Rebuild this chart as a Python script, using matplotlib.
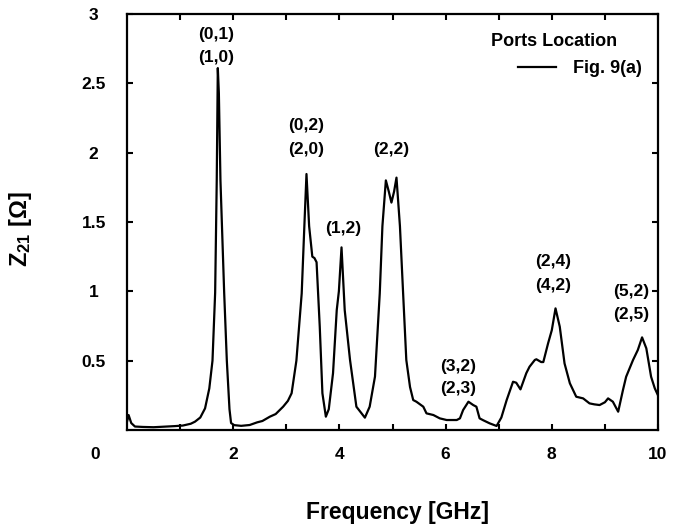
import matplotlib
matplotlib.use("Agg")
import matplotlib.pyplot as plt

plt.rcParams["font.family"] = ["Liberation Sans", "DejaVu Sans"]
plt.rcParams["font.weight"] = "bold"
plt.rcParams["mathtext.fontset"] = "custom"
plt.rcParams["mathtext.rm"] = "Liberation Sans:bold"
plt.rcParams["mathtext.it"] = "Liberation Sans:bold"
plt.rcParams["mathtext.bf"] = "Liberation Sans:bold"

freq = [0.00, 0.03, 0.08, 0.15, 0.30, 0.50, 0.70, 0.90, 1.05, 1.20, 1.28, 1.38,
        1.47, 1.55, 1.61, 1.66, 1.69, 1.71, 1.73, 1.76, 1.83, 1.88, 1.93, 1.96,
        2.02, 2.15, 2.31, 2.45, 2.55, 2.69, 2.80, 2.94, 3.03, 3.10, 3.19, 3.29,
        3.34, 3.38, 3.43, 3.49, 3.53, 3.57, 3.63, 3.68, 3.745, 3.80, 3.88, 3.95,
        3.99, 4.04, 4.10, 4.20, 4.32, 4.48, 4.57, 4.67, 4.76, 4.81, 4.875, 4.93,
        4.98, 5.03, 5.075, 5.14, 5.20, 5.26, 5.33, 5.39, 5.45, 5.58, 5.64, 5.77,
        5.89, 6.02, 6.21, 6.27, 6.33, 6.43, 6.52, 6.58, 6.64, 6.71, 6.83, 6.96,
        7.05, 7.15, 7.27, 7.33, 7.41, 7.52, 7.58, 7.68, 7.71, 7.80, 7.84, 7.93,
        8.00, 8.07, 8.15, 8.24, 8.34, 8.46, 8.59, 8.71, 8.80, 8.90, 9.00, 9.06,
        9.15, 9.25, 9.34, 9.40, 9.53, 9.62, 9.70, 9.78, 9.87, 9.94, 10.00]
z21 = [0.06, 0.108, 0.05, 0.025, 0.022, 0.020, 0.024, 0.028, 0.032, 0.045, 0.06, 0.09,
       0.156, 0.30, 0.50, 0.99, 1.80, 2.61, 2.43, 1.80, 0.99, 0.50, 0.15, 0.05,
       0.035, 0.030, 0.036, 0.055, 0.065, 0.096, 0.115, 0.168, 0.21, 0.265, 0.50, 0.985,
       1.47, 1.846, 1.47, 1.25, 1.24, 1.21, 0.745, 0.265, 0.096, 0.15, 0.41, 0.865,
       1.00, 1.317, 0.865, 0.505, 0.168, 0.089, 0.168, 0.385, 0.985, 1.47, 1.80, 1.72,
       1.64, 1.72, 1.82, 1.47, 0.985, 0.505, 0.31, 0.216, 0.204, 0.168, 0.12, 0.108,
       0.084, 0.072, 0.072, 0.084, 0.144, 0.204, 0.18, 0.168, 0.084, 0.07, 0.048, 0.029,
       0.09, 0.216, 0.348, 0.341, 0.293, 0.41, 0.456, 0.505, 0.51, 0.49, 0.49, 0.625,
       0.72, 0.877, 0.745, 0.48, 0.337, 0.24, 0.228, 0.192, 0.185, 0.18, 0.20, 0.228,
       0.204, 0.132, 0.288, 0.384, 0.505, 0.577, 0.668, 0.589, 0.384, 0.30, 0.25]

# mode labels: (text, freq, z)
modes = [("(0,1)", 1.68, 2.855), ("(1,0)", 1.68, 2.685),
         ("(0,2)", 3.37, 2.195), ("(2,0)", 3.37, 2.02),
         ("(1,2)", 4.08, 1.455),
         ("(2,2)", 4.97, 2.02),
         ("(3,2)", 6.23, 0.46), ("(2,3)", 6.23, 0.30),
         ("(2,4)", 8.02, 1.215), ("(4,2)", 8.02, 1.04),
         ("(5,2)", 9.50, 1.00), ("(2,5)", 9.50, 0.83)]

xticks = [1, 2, 3, 4, 5, 6, 7, 8, 9, 10]
xticklabels = ["", "2", "", "4", "", "6", "", "8", "", "10"]
yticks = [0.5, 1, 1.5, 2, 2.5, 3]
yticklabels = ["0.5", "1", "1.5", "2", "2.5", "3"]

fig = plt.figure(figsize=(6.73, 5.27), dpi=100)
ax = fig.add_axes([127 / 673, 1 - 430 / 527, 531 / 673, 416 / 527])

ax.plot(freq, z21, color="black", linewidth=1.6, label="Fig. 9(a)")

ax.set_xlim(0, 10)
ax.set_ylim(0, 3)
ax.set_xticks(xticks)
ax.set_xticklabels(xticklabels)
ax.set_yticks(yticks)
ax.set_yticklabels(yticklabels, ha="center")
ax.tick_params(axis="both", direction="in", length=4, width=1.5,
               top=True, right=True, labelsize=12.5)
ax.tick_params(axis="x", pad=12)
ax.tick_params(axis="y", pad=24)
for s in ax.spines.values():
    s.set_linewidth(1.6)

# origin label sits below-left of the corner
ax.text(-0.60, -0.18, "0", fontsize=12.5, fontweight="bold",
        ha="center", va="center", clip_on=False)

for txt, f, z in modes:
    ax.text(f, z, txt, fontsize=12.5, fontweight="bold", ha="center", va="center")

ax.text(0.804, 0.933, "Ports Location", transform=ax.transAxes, fontsize=13,
        fontweight="bold", ha="center", va="center")
ax.legend(loc="center right", bbox_to_anchor=(0.970, 0.868), frameon=False,
          fontsize=13, handlelength=2.1, handletextpad=0.95,
          borderpad=0, borderaxespad=0)

fig.text(20 / 673, 1 - 229 / 527, "Z$_{21}$ [Ω]", rotation=90, fontsize=17,
         fontweight="bold", ha="center", va="center")
fig.text(397 / 673, 1 - 512 / 527, "Frequency [GHz]", fontsize=16.5,
         fontweight="bold", ha="center", va="center")

fig.savefig("out.png", dpi=100)
